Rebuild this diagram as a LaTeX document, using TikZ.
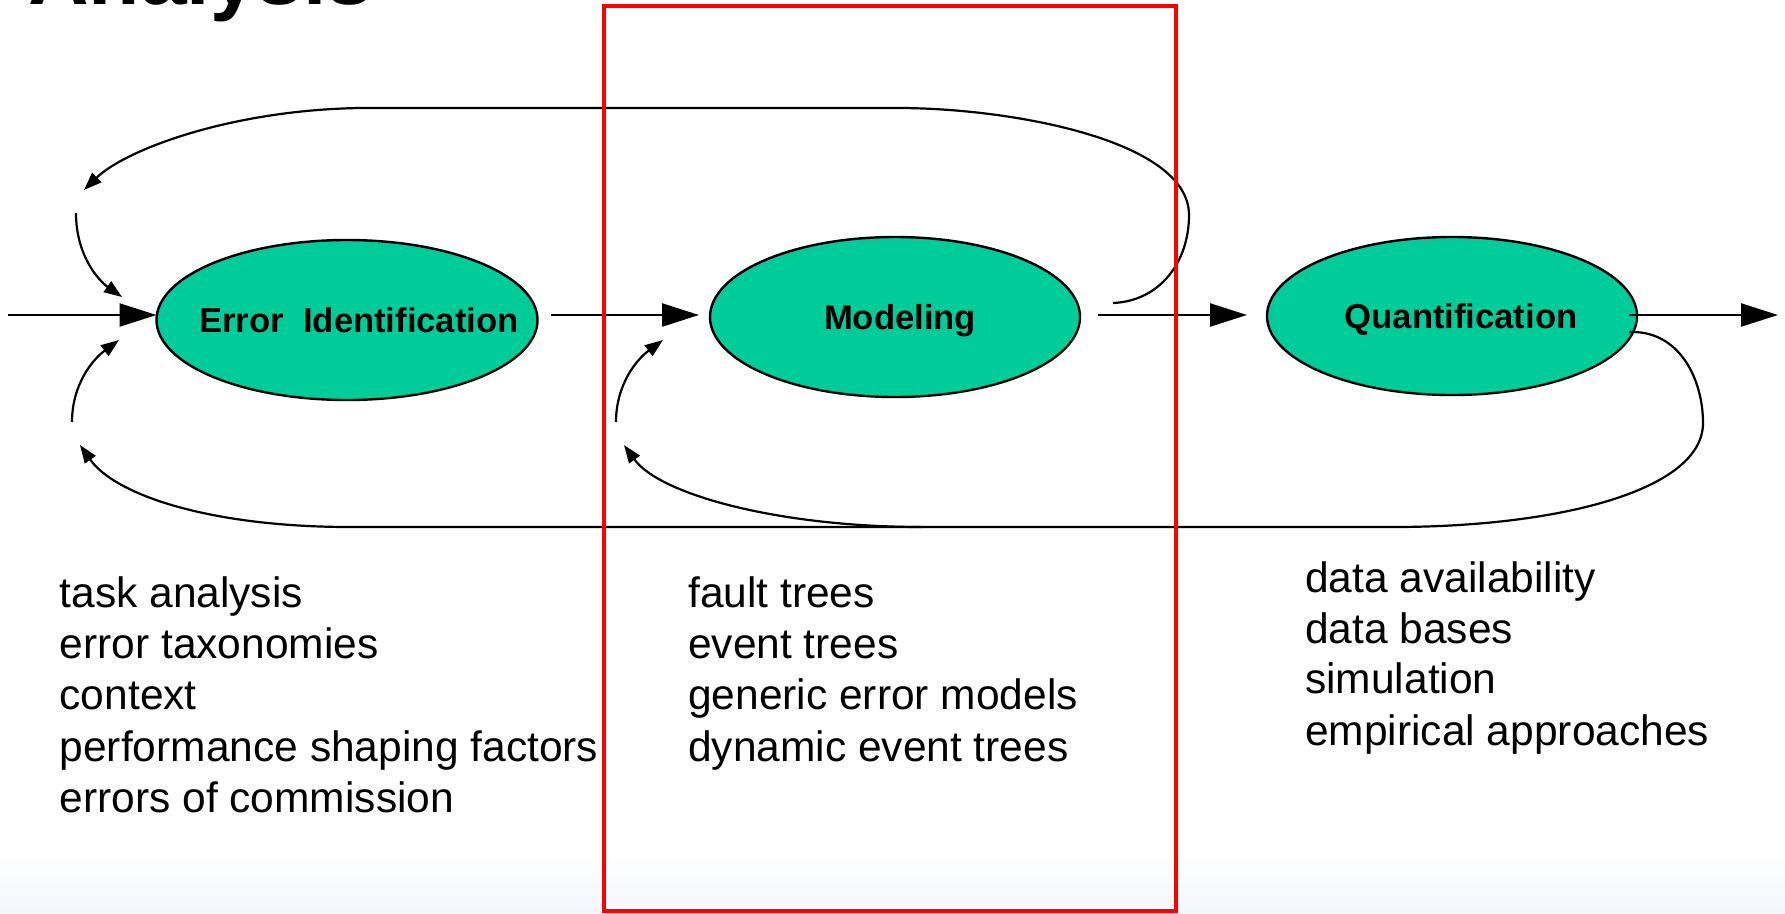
\documentclass[tikz,border=0pt]{standalone}
\usepackage{fontspec}
\setmainfont{Liberation Sans}
\usetikzlibrary{arrows.meta,shapes.geometric}
\definecolor{stagefill}{RGB}{0,204,153}
\definecolor{framered}{RGB}{255,0,0}
\definecolor{floorblue}{RGB}{243,246,252}

\begin{document}
\begin{tikzpicture}[x=1pt,y=-1pt,
  stage/.style={ellipse, draw=black, line width=2.4pt, fill=stagefill,
    inner sep=0pt, outer sep=0pt, text depth=0pt,
    font=\fontsize{34.6}{40}\selectfont\bfseries},
  flow/.style={line width=2.4pt, -{Triangle[length=37pt,width=23pt]}},
  loopline/.style={line width=2.2pt},
  loopin/.style={line width=2.2pt, -{Triangle[length=18pt,width=13pt]}},
  item/.style={anchor=base west, inner sep=0pt, font=\fontsize{42.5}{51}\selectfont},
  title/.style={anchor=base west, inner sep=0pt, font=\fontsize{84}{90}\selectfont\bfseries},
]
% canvas
\useasboundingbox (0,0) rectangle (1785,913);
\fill[white] (0,0) rectangle (1785,913);
\shade[top color=white, bottom color=floorblue] (0,855) rectangle (1785,913);

% heading
\node[title] (head) at (28,4) {Analysis};

% the three stages
\node[stage, minimum width=381pt, minimum height=160pt] (ei) at (347,320)
  {\makebox[0pt]{\hspace*{24pt}Error~~Identification}};
\node[stage, minimum width=370pt, minimum height=160pt] (mod) at (895,317)
  {\makebox[0pt]{\hspace*{10pt}Modeling}};
\node[stage, minimum width=370pt, minimum height=158pt] (qua) at (1452,316)
  {\makebox[0pt]{\hspace*{18pt}Quantification}};

% main flow
\coordinate (src) at (8,315);
\coordinate (snk) at (1778,315);
\draw[flow] (src) -- (src -| ei.west);
\draw[flow, shorten <=13pt, shorten >=11pt] (ei.east |- src) -- (mod.west |- src);
\draw[flow, shorten <=18pt, shorten >=20pt] (mod.east |- src) -- (qua.west |- src);
\draw[flow, shorten <=-8pt] (qua.east |- src) -- (snk);

% feedback ends
\coordinate (modfb) at (1113,303);
\coordinate (topret) at (84,190);
\coordinate (quafb) at (1629,332);
\coordinate (eiret) at (80,445);
\coordinate (branch) at (922,527);
\coordinate (modret) at (624,445);
\coordinate (eitopA) at (76,213);
\coordinate (eitopB) at (122,297);
\coordinate (eibotA) at (72,422);
\coordinate (eibotB) at (119,340);
\coordinate (modbotA) at (616,422);
\coordinate (modbotB) at (663,340);

% upper feedback: modeling back to error identification
\draw[loopin] (modfb) .. controls (1160,301) and (1189,262) .. (1189,215)
  .. controls (1189,140) and (1010,108) .. (898,108) -- (360,108)
  .. controls (230,110) and (125,150) .. (topret);

% lower feedback: quantification back to both earlier stages
\draw[loopin] (quafb) .. controls (1680,330) and (1703,380) .. (1703,423)
  .. controls (1703,490) and (1560,527) .. (1393,527) -- (350,527)
  .. controls (210,527) and (115,495) .. (eiret);
\draw[loopin] (branch) .. controls (780,527) and (660,495) .. (modret);

% re-entry arrows
\draw[loopin] (eitopA) .. controls (76,255) and (98,280) .. (eitopB);
\draw[loopin] (eibotA) .. controls (72,385) and (92,360) .. (eibotB);
\draw[loopin] (modbotA) .. controls (616,385) and (636,360) .. (modbotB);

% lists under each stage
\node[item] (l1) at (59.5,607) {task analysis};
\node[item] (l2) at (59.5,658) {error taxonomies};
\node[item] (l3) at (59.5,709) {context};
\node[item] (l4) at (59.5,761) {performance shaping factors};
\node[item] (l5) at (59.5,812) {errors of commission};

\node[item] (m1) at (688,607) {fault trees};
\node[item] (m2) at (688,658) {event trees};
\node[item] (m3) at (688,709) {generic error models};
\node[item] (m4) at (688,761) {dynamic event trees};

\node[item] (r1) at (1305,592) {data availability};
\node[item] (r2) at (1305,643) {data bases};
\node[item] (r3) at (1305,693) {simulation};
\node[item] (r4) at (1305,745) {empirical approaches};

% highlight frame round the modeling column
\draw[framered, line width=4pt] (603.5,6) rectangle (1176,911);
\end{tikzpicture}
\end{document}
